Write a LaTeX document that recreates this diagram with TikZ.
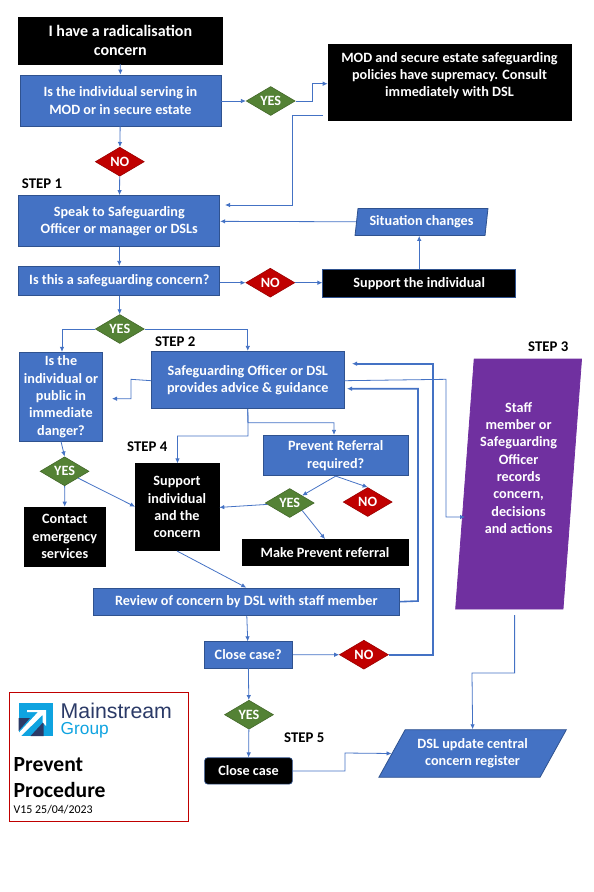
\documentclass[tikz,border=0pt]{standalone}
\usepackage{fontspec}
\setmainfont{Carlito}
\newfontfamily\logofont{Liberation Sans}
\usetikzlibrary{arrows.meta,shapes.geometric}
\definecolor{flowblue}{HTML}{4472C4}
\definecolor{edgeblue}{HTML}{2F528F}
\definecolor{yesgreen}{HTML}{548235}
\definecolor{nored}{HTML}{C00000}
\definecolor{recpurple}{HTML}{7030A0}
\definecolor{logonavy}{HTML}{2B3A67}
\definecolor{logosky}{HTML}{0FA3E0}
\tikzset{
  boxtext/.style={text=white,font=\fontsize{14.2}{17.3}\selectfont\bfseries,align=center,inner sep=0pt},
  bluebox/.style={boxtext,rectangle,fill=flowblue,draw=edgeblue,line width=0.8pt},
  blackbox/.style={boxtext,rectangle,fill=black,draw=black,line width=0.6pt},
  slantbox/.style={boxtext,trapezium,trapezium stretches=true,draw=edgeblue,line width=0.8pt},
  choice/.style={boxtext,diamond,shape aspect=1.65,minimum width=49pt,minimum height=29pt,line width=0.6pt},
  yesdiamond/.style={choice,fill=yesgreen,draw=yesgreen!80!black},
  nodiamond/.style={choice,fill=nored,draw=nored!80!black},
  steplabel/.style={anchor=west,inner sep=0pt,font=\fontsize{14.8}{16}\selectfont\bfseries},
  flow/.style={draw=flowblue,line width=0.8pt,-{Latex[length=5pt,width=4.5pt]}},
  heavyflow/.style={flow,line width=1.6pt}
}
\begin{document}
\begin{tikzpicture}[x=1pt,y=-1pt]
  \useasboundingbox (0,0) rectangle (594,892);

  % top of the chart
  \node[blackbox,minimum width=204pt,minimum height=47pt,font=\fontsize{16}{19.5}\selectfont\bfseries] (start) at (120.3,40.3) {I have a radicalisation\\concern};
  \node[bluebox,minimum width=201pt,minimum height=51pt] (mod) at (120.4,100.5) {Is the individual serving in\\MOD or in secure estate};
  \node[yesdiamond] (yesa) at (270.7,101) {YES};
  \node[blackbox,minimum width=243pt,minimum height=76pt] (policy) at (449.5,82.7) {MOD and secure estate safeguarding\\policies have supremacy. Consult\\immediately with DSL\\[-1pt]\mbox{}};
  \node[nodiamond] (noa) at (119.8,161.7) {NO};
  \node[steplabel] (stepa) at (21.7,184) {STEP 1};
  \node[bluebox,minimum width=201pt,minimum height=51pt] (speak) at (119.3,221) {Speak to Safeguarding\\Officer or manager or DSLs};
  \node[slantbox,fill=flowblue,trapezium left angle=79,trapezium right angle=101,minimum width=133pt,minimum height=27pt] (changes) at (421.5,222) {Situation changes};
  \node[bluebox,minimum width=201pt,minimum height=29.5pt] (concern) at (119.3,281) {Is this a safeguarding concern?};
  \node[nodiamond] (nob) at (270.3,282.7) {NO};
  \node[blackbox,draw=edgeblue,minimum width=193pt,minimum height=28pt] (individual) at (419.2,283.5) {Support the individual};

  % middle of the chart
  \node[yesdiamond] (yesb) at (119.8,329) {YES};
  \node[steplabel] (stepb) at (155,342) {STEP 2};
  \node[bluebox,minimum width=82.5pt,minimum height=88.7pt] (danger) at (61,396.7) {Is the\\individual or\\public in\\immediate\\danger?};
  \node[bluebox,minimum width=192.3pt,minimum height=57.4pt] (advice) at (247.8,380) {Safeguarding Officer or DSL\\provides advice \& guidance};
  \node[steplabel] (stepc) at (528,347) {STEP 3};
  \node[slantbox,fill=recpurple,draw=recpurple,trapezium left angle=84.4,trapezium right angle=95.6,minimum width=126pt,minimum height=250pt] (records) at (518.6,484) {Staff\\member or\\Safeguarding\\Officer\\records\\concern,\\decisions\\and actions\\[15pt]\mbox{}};
  \node[steplabel] (stepd) at (127,447) {STEP 4};
  \node[bluebox,minimum width=144.5pt,minimum height=40.4pt] (referral) at (335.7,455.5) {Prevent Referral\\required?};
  \node[yesdiamond] (yesc) at (64.6,471.3) {YES};
  \node[blackbox,minimum width=84pt,minimum height=87pt] (supportcase) at (177,507.2) {Support\\individual\\and the\\concern};
  \node[yesdiamond] (yesd) at (289.7,503) {YES};
  \node[nodiamond] (noc) at (367.7,502) {NO};
  \node[blackbox,minimum width=81.7pt,minimum height=59pt] (emergency) at (64.8,536.5) {Contact\\emergency\\services};
  \node[blackbox,minimum width=166pt,minimum height=25.7pt] (makeref) at (325,552.2) {Make Prevent referral};

  % bottom of the chart
  \node[bluebox,minimum width=306.5pt,minimum height=27.3pt] (review) at (246.3,601.7) {Review of concern by DSL with staff member};
  \node[bluebox,minimum width=88.4pt,minimum height=26.3pt] (closeq) at (248.2,654.9) {Close case?};
  \node[nodiamond] (nod) at (363.9,654.7) {NO};
  \node[yesdiamond] (yese) at (249,714.7) {YES};
  \node[steplabel] (stepe) at (284,737.7) {STEP 5};
  \node[blackbox,draw=edgeblue,rounded corners=3pt,minimum width=87.8pt,minimum height=26.3pt] (closecase) at (248.5,770.9) {Close case};
  \node[slantbox,fill=flowblue,trapezium left angle=54,trapezium right angle=126,minimum width=187.8pt,minimum height=47.6pt] (central) at (472.6,753.5) {DSL update central\\concern register};

  \coordinate (policyfree) at (323,115);
  \coordinate (recordsfree) at (514.6,615);
  \coordinate (supportfree) at (135,506.7);

  % connectors
  \draw[flow] (start) -- (mod);
  \draw[flow] (mod.east |- yesa) -- (yesa);
  \draw[flow] (yesa) -- (312,101) -- (312,83.7) -- (policy.west |- 0,83.7);
  \draw[flow] (policyfree) -- (292,115) -- (292,205) -- (225,205);
  \draw[flow] (mod) -- (noa);
  \draw[flow] (noa) -- (speak);
  \draw[flow] (changes) -- (speak);
  \draw[flow] (individual.north) -- (changes.south -| individual.north);
  \draw[flow] (speak) -- (concern);
  \draw[flow] (concern.east |- nob) -- (nob);
  \draw[flow] (nob) -- (individual.west |- nob);
  \draw[flow] (concern) -- (yesb);
  \draw[flow] (yesb) -| (danger.north -| 62,0);
  \draw[flow] (yesb) -| (advice.north);
  \draw[flow] ([yshift=-0.7pt]advice.west) -- (131,379.3) -- (131,398.7) -- (112,398.7);
  \draw[flow] ([yshift=-0.7pt]advice.east) -- (446,379.3) -- (446,517) -- (465,517);
  \draw[heavyflow] (nod) -- (432.7,654.7) -- (432.7,363.7) -- (352,363.7);
  \draw[heavyflow] (review.east) -- (418,601) -- (418,388.7) -- (347,388.7);
  \draw[flow] (advice.south) -- (248,422.7) -- (334,422.7) -- (referral.north -| 334,0);
  \draw[flow] (advice.south) -- (248,436) -- (177.5,436) -- (supportcase.north -| 177.5,0);
  \draw[flow] (referral.south) -- (yesd.north east);
  \draw[flow] (referral.south) -- (noc.north);
  \draw[flow] (yesd) -- ([yshift=-0.2pt]supportcase.east);
  \draw[flow] (yesd.south east) -- (makeref.north);
  \draw[flow] (danger.south) -- (yesc.north);
  \draw[flow] (yesc) -- (emergency);
  \draw[flow] (yesc) -- (supportfree);
  \draw[flow] (supportcase.south) -- (review.north);
  \draw[flow] (review) -- (closeq);
  \draw[flow] (closeq) -- (nod);
  \draw[flow] (closeq) -- (yese);
  \draw[flow] (yese) -- (closecase);
  \draw[flow] (closecase.east) -- (345,771) -- (345,753) -- (central.west);
  \draw[flow] (recordsfree) -- (514.6,673) -- (472,673) -- (central.north);

  % logo panel
  \node[draw=nored,line width=0.8pt,minimum width=179pt,minimum height=129pt,anchor=north west,inner sep=0pt] (panel) at (9.3,692.3) {};
  \fill[logosky] (18.6,702.5) rectangle (53,736);
  \fill[logonavy] (18.6,718) -- (30,718) -- (18.6,731) -- cycle;
  \fill[logonavy] (43.5,722) -- (43.5,736) -- (30.5,736) -- cycle;
  \fill[white] (18.6,736) -- (18.6,733) -- (38,712) -- (27,712) -- (27,710) -- (46,710) -- (46,726) -- (42.5,722) -- (42.5,715) -- (21,736) -- cycle;
  \node[anchor=west,inner sep=0pt,text=logonavy,font=\logofont\fontsize{21.3}{24}\selectfont] (brand) at (60.5,710.7) {Mainstream};
  \node[anchor=west,inner sep=0pt,text=logosky,font=\logofont\fontsize{17.3}{18}\selectfont] (group) at (60.5,730.5) {Group};
  \node[anchor=west,inner sep=0pt,font=\fontsize{21.6}{25.5}\selectfont\bfseries,align=left] (title) at (13.5,777.5) {Prevent\\Procedure};
  \node[anchor=west,inner sep=0pt,font=\fontsize{11.9}{13}\selectfont] (version) at (13.5,809.5) {V15 25/04/2023};
\end{tikzpicture}
\end{document}
